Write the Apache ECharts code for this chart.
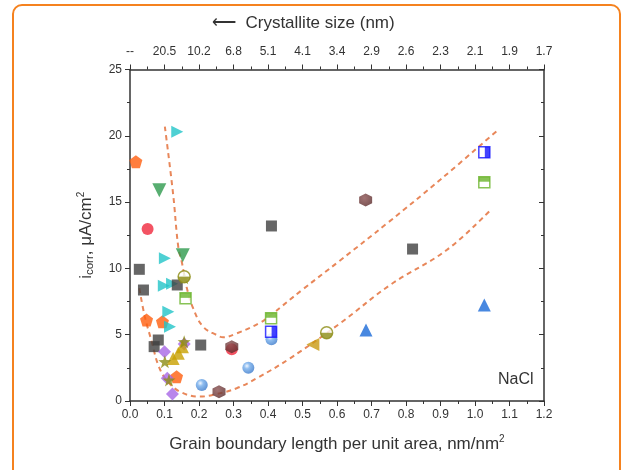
<!DOCTYPE html>
<html><head><meta charset="utf-8">
<script src="https://cdn.jsdelivr.net/npm/echarts@6/dist/echarts.min.js"></script>
<style>html,body{margin:0;padding:0;background:#fff}#c{width:624px;height:470px}</style>
</head><body><div id="c"></div>
<script>
// ---- data ----
const xTicks = [0,0.1,0.2,0.3,0.4,0.5,0.6,0.7,0.8,0.9,1.0,1.1,1.2];
const topTickLabels = ['--','20.5','10.2','6.8','5.1','4.1','3.4','2.9','2.6','2.3','2.1','1.9','1.7'];
const orangePentagon = [[0.017,18.05],[0.048,6.1],[0.094,5.98],[0.135,1.83]];
const redCircle = [[0.051,12.97],[0.295,3.9]];
const greenDownTri = [[0.085,15.9],[0.153,11.0]];
const cyanRightTri = [[0.137,20.3],[0.101,10.76],[0.098,8.7],[0.122,8.85],[0.111,6.73],[0.116,5.6]];
const graySquare = [[0.027,9.93],[0.039,8.37],[0.082,4.6],[0.070,4.1],[0.137,8.75],[0.205,4.22],[0.41,13.2],[0.819,11.46]];
const oliveHalfCircle = [[0.157,9.37],[0.570,5.15]];
const greenHalfSquare = [[0.161,7.74],[0.409,6.24],[1.027,16.5]];
const blueHalfSquare = [[0.409,5.23],[1.027,18.76]];
const blueSphere = [[0.41,4.65],[0.343,2.51],[0.208,1.21]];
const brownHexagon = [[0.683,15.16],[0.295,4.1],[0.258,0.70]];
const blueUpTri = [[0.684,5.35],[1.027,7.24]];
const goldLeftTri = [[0.530,4.27]];
const goldUpTri = [[0.125,3.2],[0.14,3.6],[0.152,4.1]];
const purpleDiamond = [[0.100,3.72],[0.108,1.71],[0.123,0.53],[0.157,4.3]];
const oliveStar = [[0.101,2.96],[0.157,4.47],[0.113,1.58],[0.157,9.3]];
const upperCurve = [[0.101,20.7],[0.125,15.6],[0.14,11.6],[0.15,10.5],[0.164,8.6],[0.183,7.0],[0.212,5.6],[0.251,4.98],[0.27,4.8],[0.309,5.1],[0.377,5.9],[0.409,6.5],[0.5,8.4],[0.609,10.6],[0.75,13.5],[0.9,16.7],[1.063,20.36]];
const lowerCurve = [[0.027,8.5],[0.043,6.36],[0.063,4.47],[0.082,2.7],[0.106,1.58],[0.145,0.70],[0.203,0.33],[0.251,0.53],[0.309,0.96],[0.367,1.71],[0.464,3.22],[0.609,5.86],[0.754,8.75],[0.918,11.39],[1.043,14.35]];

// ---- symbols ----
const P = {
  pentagon:'path://M0,-10 L9.51,-3.09 L5.88,8.09 L-5.88,8.09 L-9.51,-3.09Z',
  hexagon:'path://M0,-10 L8.66,-5 L8.66,5 L0,10 L-8.66,5 L-8.66,-5Z',
  down:'path://M-10,-8 L10,-8 L0,9Z',
  right:'path://M-8,-10 L9,0 L-8,10Z',
  left:'path://M8,-10 L-9,0 L8,10Z',
  star:'path://M0,-10 L2.35,-3.24 L9.51,-3.09 L3.8,1.24 L5.88,8.09 L0,4 L-5.88,8.09 L-3.8,1.24 L-9.51,-3.09 L-2.35,-3.24Z',
  halfDisk:'path://M-10,0 A10,10 0 0,0 10,0 Z'
};
function sc(name, data, symbol, size, color, extra){
  return Object.assign({type:'scatter', name, data, symbol, symbolSize:size,
    itemStyle:{color}, z:5, silent:true}, extra||{});
}
const sphereGrad = {type:'radial',x:0.38,y:0.35,r:0.7,colorStops:[{offset:0,color:'#eef5ff'},{offset:0.35,color:'#72aceb'},{offset:1,color:'#3575c8'}]};
const hexGrad = {type:'radial',x:0.4,y:0.35,r:0.7,colorStops:[{offset:0,color:'#8a5050'},{offset:1,color:'#5a2a2a'}]};

const dashStyle = {color:'#e8875a', width:2, type:[5,4]};
const series = [
  {type:'line', data:upperCurve, smooth:0.4, showSymbol:false, lineStyle:dashStyle, z:2, silent:true},
  {type:'line', data:lowerCurve, smooth:0.4, showSymbol:false, lineStyle:dashStyle, z:2, silent:true},
  sc('red', redCircle, 'circle', 12, '#f0283c'),
  sc('brown', brownHexagon, P.hexagon, 13, hexGrad),
  sc('orange', orangePentagon, P.pentagon, 13, '#ff5e0e'),
  sc('green', greenDownTri, P.down, 14, '#2e9a4e'),
  sc('cyan', cyanRightTri, P.right, 12, '#22c4c8'),
  sc('gray', graySquare, 'rect', 11, '#404040'),
  sc('purple', purpleDiamond, 'diamond', 13, '#a866e6'),
  sc('gold', goldUpTri, 'triangle', 13, '#c8a000'),
  sc('star', oliveStar, P.star, 13, '#8c8c14'),
  sc('sphere', blueSphere, 'circle', 12, sphereGrad),
  sc('blueTri', blueUpTri, 'triangle', 13, '#1a6ad8'),
  sc('goldLeft', goldLeftTri, P.left, 13, '#c89a10'),
  sc('oliveO', oliveHalfCircle, 'circle', 12, '#ffffff', {itemStyle:{color:'#ffffff', borderColor:'#8c8c14', borderWidth:1.5}}),
  sc('oliveH', oliveHalfCircle, P.halfDisk, [12,6], '#8c8c14', {symbolOffset:[0,3], z:6}),
  sc('gsq', greenHalfSquare, 'rect', 11, '#ffffff', {itemStyle:{color:'#ffffff', borderColor:'#6ab42a', borderWidth:1.5}}),
  sc('gsqH', greenHalfSquare, 'rect', [11,5], '#6ab42a', {symbolOffset:[0,-3], z:6}),
  sc('bsq', blueHalfSquare, 'rect', 11, '#ffffff', {itemStyle:{color:'#ffffff', borderColor:'#1414ff', borderWidth:1.5}}),
  sc('bsqH', blueHalfSquare, 'rect', [5,11], '#1414ff', {symbolOffset:[3,0], z:6})
];

const axisCol = '#333';
const labelFont = {fontFamily:'Liberation Sans', fontSize:12, color:'#333'};
const chart = echarts.init(document.getElementById('c'), null, {renderer:'canvas'});
chart.setOption({
  animation:false,
  backgroundColor:'#fff',
  grid:{left:130, right:80, top:69.5, bottom:69, containLabel:false},
  xAxis:[
    {type:'value', min:0, max:1.2, interval:0.1, position:'bottom',
     axisLine:{onZero:false, lineStyle:{color:axisCol, width:1.5}},
     axisTick:{length:5, lineStyle:{color:axisCol}}, minorTick:{show:true, splitNumber:2, length:3, lineStyle:{color:axisCol}},
     splitLine:{show:false},
     axisLabel:Object.assign({margin:8, formatter:v=>v.toFixed(1)}, labelFont),
     name:'Grain boundary length per unit area, nm/nm{s|2}', nameLocation:'middle', nameGap:33,
     nameTextStyle:{fontFamily:'Liberation Sans', fontSize:17, color:'#333', rich:{s:{fontSize:10, verticalAlign:'top', padding:[0,0,10,0], fontFamily:'Liberation Sans', color:'#333'}}}},
    {type:'value', min:0, max:1.2, interval:0.1, position:'top',
     axisLine:{onZero:false, lineStyle:{color:axisCol, width:1.5}},
     axisTick:{length:5, lineStyle:{color:axisCol}}, minorTick:{show:true, splitNumber:2, length:3, lineStyle:{color:axisCol}},
     splitLine:{show:false},
     axisLabel:Object.assign({margin:12, formatter:v=>topTickLabels[Math.round(v*10)]}, labelFont)}
  ],
  yAxis:[
    {type:'value', min:0, max:25, interval:5, position:'left',
     axisLine:{onZero:false, lineStyle:{color:axisCol, width:1.5}},
     axisTick:{length:5, lineStyle:{color:axisCol}}, minorTick:{show:true, splitNumber:2, length:3, lineStyle:{color:axisCol}},
     splitLine:{show:false},
     axisLabel:Object.assign({margin:8}, labelFont),
     name:'i{sub|corr}, μA/cm{s|2}', nameLocation:'middle', nameGap:34, nameRotate:90,
     nameTextStyle:{fontFamily:'Liberation Sans', fontSize:17, color:'#333',
       rich:{sub:{fontSize:11.5, verticalAlign:'bottom', padding:[7,0,0,0], fontFamily:'Liberation Sans', color:'#333'},
             s:{fontSize:10, verticalAlign:'top', padding:[0,0,10,0], fontFamily:'Liberation Sans', color:'#333'}}}},
    {type:'value', min:0, max:25, interval:5, position:'right',
     axisLine:{onZero:false, lineStyle:{color:axisCol, width:1.5}},
     axisTick:{inside:true, length:5, lineStyle:{color:axisCol}}, minorTick:{show:true, splitNumber:2, length:3, lineStyle:{color:axisCol}},
     splitLine:{show:false}, axisLabel:{show:false}}
  ],
  series: series,
  graphic:[
    {type:'rect', shape:{x:13, y:5, width:607, height:490, r:9}, style:{fill:'none', stroke:'#f5821f', lineWidth:2}, silent:true},
    {type:'text', left:212, top:15, style:{text:'⟵  Crystallite size (nm)', font:'17px "Liberation Sans"', fill:'#333'}, silent:true},
    {type:'text', left:498, top:372, style:{text:'NaCl', font:'16px "Liberation Sans"', fill:'#333'}, silent:true}
  ]
});
</script></body></html>
